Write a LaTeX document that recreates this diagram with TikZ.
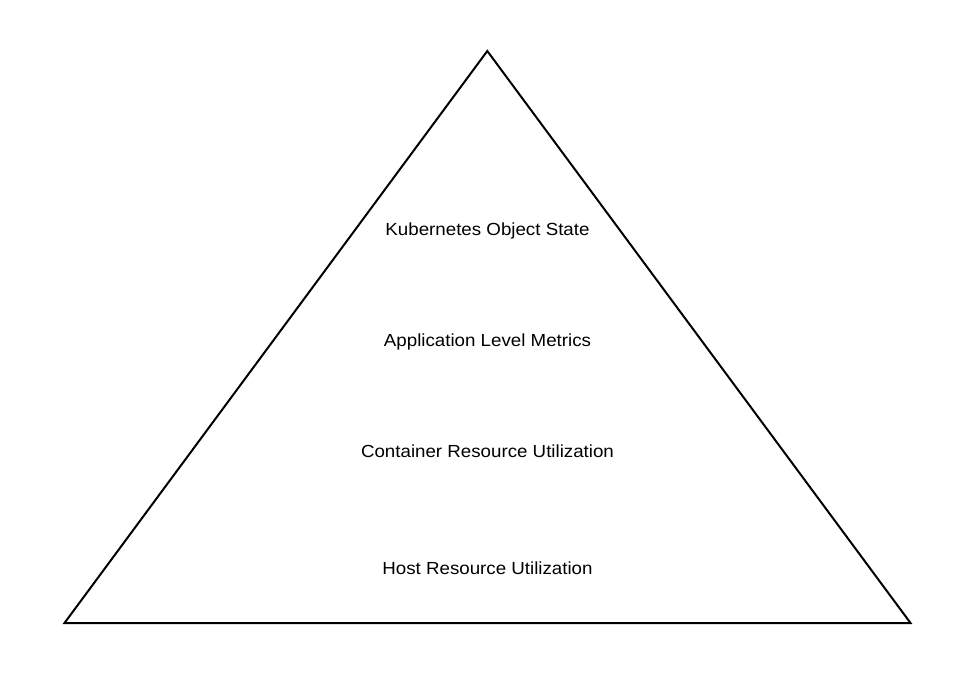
\documentclass[tikz,border=0pt]{standalone}
\usepackage{fontspec}
\setmainfont{Liberation Sans}
\newfontfamily\labelfont{Liberation Sans}[FakeStretch=1.07]
\begin{document}
\begin{tikzpicture}[x=1pt,y=-1pt,
  layer/.style={font=\labelfont\fontsize{17.5}{21}\selectfont, text=black, inner sep=0pt, anchor=base},
  edge/.style={draw=black, line width=2pt, line join=miter}]
\useasboundingbox (0,0) rectangle (974,675);
\coordinate (top) at (487.3,51);
\coordinate (bl) at (64.5,623);
\coordinate (br) at (910.5,623);
\draw[edge] (top) -- (br) -- (bl) -- cycle;
\node[layer] (k8s) at (487.5,235) {Kubernetes Object State};
\node[layer] (app) at (487.5,346.5) {Application Level Metrics};
\node[layer] (cont) at (487.5,457.5) {Container Resource Utilization};
\node[layer] (host) at (487.5,574) {Host Resource Utilization};
\end{tikzpicture}
\end{document}
